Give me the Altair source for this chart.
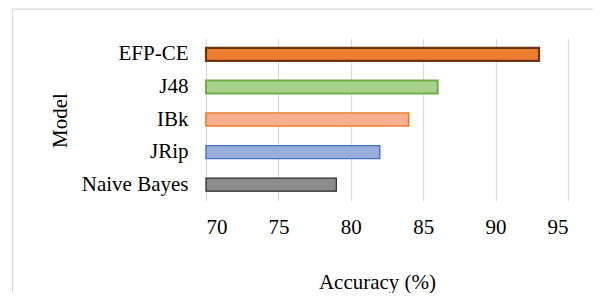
import altair as alt
import pandas as pd

models = ["EFP-CE", "J48", "IBk", "JRip", "Naive Bayes"]
accuracy = [93, 86, 84, 82, 79]
fills = ["#ED7D31", "#A9D18E", "#F5B08D", "#98AEDD", "#8C8C8C"]
strokes = ["#6B3414", "#70AD47", "#ED7D31", "#4472C4", "#262626"]
stroke_widths = [2.2, 1.2, 1.2, 1.2, 1.2]
x_ticks = [70, 75, 80, 85, 90, 95]

df = pd.DataFrame({"Model": models, "Accuracy": accuracy})
font = "Liberation Serif"

bars = alt.Chart(df).mark_bar(size=13).encode(
    y=alt.Y("Model:N", sort=models,
            scale=alt.Scale(paddingInner=0, paddingOuter=0),
            axis=alt.Axis(title="Model", ticks=False, domain=False, grid=False,
                          labelPadding=18, labelFontSize=21, labelColor="#000000",
                          labelFont=font, titleFont=font, titleFontSize=21,
                          titleFontWeight="normal", titleColor="#000000",
                          titleX=-146, titleY=82, titleBaseline="middle",
                          titleAngle=-90)),
    x=alt.X("Accuracy:Q",
            scale=alt.Scale(domain=[70, 95], nice=False, zero=False),
            axis=alt.Axis(title="Accuracy (%)", values=x_ticks, ticks=False, domain=False,
                          grid=True, gridColor="#D9D9D9", gridWidth=1.3,
                          labelPadding=26, labelBaseline="middle", labelFontSize=21,
                          labelColor="#000000", labelFont=font,
                          titleFont=font, titleFontSize=21, titleFontWeight="normal",
                          titleColor="#000000", titleX=171, titleY=81,
                          titleBaseline="middle")),
    x2=alt.datum(70),
    fill=alt.Fill("Model:N", scale=alt.Scale(domain=models, range=fills), legend=None),
    stroke=alt.Stroke("Model:N", scale=alt.Scale(domain=models, range=strokes), legend=None),
    strokeWidth=alt.StrokeWidth("Model:N", scale=alt.Scale(domain=models, range=stroke_widths), legend=None),
)

border = alt.Chart(pd.DataFrame({"k": [0]})).mark_rect(
    fill=None, stroke="#D9D9D9", strokeWidth=1.3, clip=False
).encode(
    x=alt.value(-193.5), x2=alt.value(420),
    y=alt.value(-28.8), y2=alt.value(300),
)

chart = alt.layer(border, bars).properties(
    width=362, height=163,
    autosize=alt.AutoSizeParams(type="none"),
    padding={"left": 198, "top": 30, "right": 25, "bottom": 92},
    background="#FFFFFF",
).configure(font=font).configure_axis(
    labelFont=font, titleFont=font
).configure_view(stroke=None)

chart.save("out.html", embed_options={"renderer": "svg", "actions": False})
